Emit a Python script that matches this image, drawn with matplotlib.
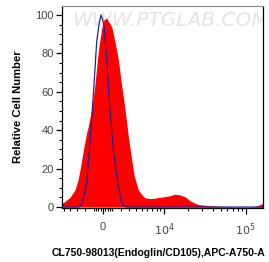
import numpy as np
import matplotlib
matplotlib.use("Agg")
import matplotlib.pyplot as plt

# ---- data (fluorescence intensity, relative cell number) ----
red_x = [-5336, -4983, -4527, -4003, -3272, -2864, -2515, -2167, -1785, -1600,
         -1216, -854, -499, -138, 106, 392, 531, 930, 1294, 1669, 2070, 2477,
         2904, 3370, 3746, 4364, 4931, 5523, 6511, 7623, 8882, 10314, 11944,
         13806, 15932, 18364, 21150, 24345, 28009, 37033, 48930, 64603, 85287,
         112563, 129358, 148596, 161500]
red_y = [2, 2.5, 3.7, 5, 8.9, 14, 21.2, 30, 38.9, 42,
         51, 64, 81, 93, 97.5, 98.4, 97, 94, 86, 77, 63, 51,
         37, 24.7, 16, 9, 6.5, 4.8, 4.4, 4.6, 5.1, 5.4, 5.9,
         6.7, 6.3, 5.4, 3.3, 1.9, 1.2, 0.7, 0.4, 0.2, 0.1,
         0.1, 0.3, 1.2, 2]

blue_x = [-5336, -2864, -2515, -2167, -1785, -1407, -1040, -671, -424, -212,
          -53, 138, 392, 746, 1105, 1669, 1986, 2265, 2603, 161500]
blue_y = [0, 0, 0.5, 5, 12.6, 33.7, 58, 86, 95, 100,
          98, 93, 77, 51, 30, 10.7, 4, 1, 0, 0]

major_ticks = [0, 1e4, 1e5]
major_labels = ["0", "$10^4$", "$10^5$"]
minor_ticks = ([v * 1000 for v in range(-5, 10) if v != 0]
               + [v * 10000 for v in range(2, 10)]
               + [-750, -500, -250, 250, 500, 750])

C = 3817.0
def fwd(x):
    return np.arcsinh(np.asarray(x, dtype=float) / C)
def inv(u):
    return C * np.sinh(np.asarray(u, dtype=float))

plt.rcParams['font.family'] = ['Liberation Sans', 'DejaVu Sans']

fig = plt.figure(figsize=(2.69, 2.62), dpi=100)
ax = fig.add_axes([62/269, 1-208/262, (263-62)/269, (208-6)/262])
ax.set_xscale('function', functions=(fwd, inv))
ax.set_xlim(-5336, 161500)
ax.set_ylim(-0.5, 104.7)

ax.text(0.05, 0.975, "WWW.PTGLAB.COM", transform=ax.transAxes, fontsize=14.5,
        style='italic', color='#e4e4e4', ha='left', va='top', zorder=0,
        family='DejaVu Sans', clip_on=True)

ax.fill_between(red_x, 0, red_y, color='#ff0000', lw=0, zorder=2)
ax.plot(blue_x, blue_y, color='#2a1f8f', lw=0.9, zorder=3)

ax.set_xticks(major_ticks)
ax.set_xticklabels(major_labels)
ax.set_xticks(minor_ticks, minor=True)
ax.set_yticks([0, 20, 40, 60, 80, 100])
ax.set_yticks(np.arange(0, 105, 5), minor=True)

ax.tick_params(axis='both', which='major', direction='out', length=4, width=0.9,
               labelsize=8, labelcolor='#444444', color='black', pad=2)
ax.tick_params(axis='both', which='minor', direction='out', length=2.5, width=0.8,
               color='black')
ax.tick_params(axis='x', which='major', pad=6)

for s in ['left', 'bottom']:
    ax.spines[s].set_color('black')
    ax.spines[s].set_linewidth(0.9)
ax.spines['top'].set_color('#888888')
ax.spines['top'].set_linewidth(0.8)
ax.spines['right'].set_color('black')
ax.spines['right'].set_linewidth(0.9)

ax.set_ylabel("Relative Cell Number", fontsize=8.1, fontweight='bold', labelpad=9)
ax.set_xlabel("CL750-98013(Endoglin/CD105),APC-A750-A", fontsize=7.5,
              fontweight='bold', labelpad=7)
ax.xaxis.label.set_x((159 - 62) / 201)

fig.savefig("out.png", dpi=100)
